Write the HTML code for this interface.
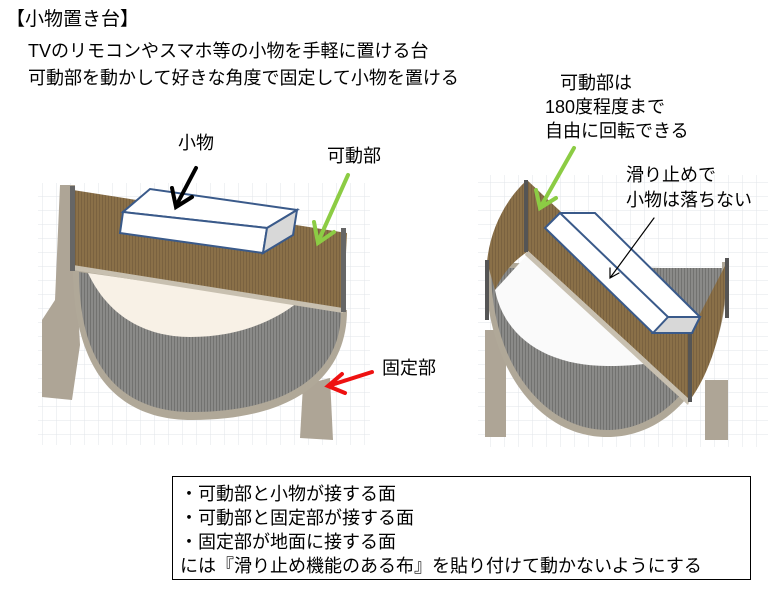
<!DOCTYPE html>
<html><head><meta charset="utf-8"><style>
html,body{margin:0;padding:0;background:#fff;}
body{width:773px;height:593px;position:relative;overflow:hidden;font-family:"Liberation Sans","Noto Sans CJK JP",sans-serif;color:#000;}
.t{position:absolute;white-space:nowrap;font-size:18px;line-height:22px;}
.box{position:absolute;left:172px;top:476px;width:579px;height:104px;border:1px solid #000;box-sizing:border-box;}
.box div{position:absolute;left:7px;font-size:18px;line-height:22px;white-space:nowrap;}
</style></head><body>
<svg width="773" height="593" style="position:absolute;left:0;top:0">
<defs>
<pattern id="g" width="14" height="14" patternUnits="userSpaceOnUse"><path d="M14 0H0V14" fill="none" stroke="#e2e4ea" stroke-width="1"/></pattern>
<pattern id="m" width="3" height="3" patternUnits="userSpaceOnUse"><rect width="3" height="3" fill="#8a8a88"/><rect width="1" height="3" fill="#727270"/></pattern>
<pattern id="b" width="3" height="3" patternUnits="userSpaceOnUse"><rect width="3" height="3" fill="#8a7048"/><rect width="1" height="3" fill="#7a6240"/></pattern>
</defs>
<rect x="38" y="183" width="332" height="262" fill="url(#g)"/>
<rect x="478" y="175" width="290" height="272" fill="url(#g)"/>
<!-- left figure -->
<polygon points="60,185 75,185 76,270 80,345 72,400 42,397 42,320 55,300" fill="#aea596"/>
<polygon points="303,385 330,378 333,440 300,438" fill="#aea596"/>
<path d="M73,268 C73,380 125,420 192,420 C290,420 347,380 347,310 Z" fill="#b0a898"/>
<path d="M79,272 C79,375 128,412 192,412 C285,412 341,375 341,312 Z" fill="url(#m)"/>
<path d="M88,273 C110,320 150,337 190,337 C240,337 275,320 297,303 Z" fill="#f8f1e6"/>
<polygon points="73,190 347,233 343,312 73,268" fill="url(#b)"/>
<polygon points="73,265 343,308 343,313 73,270" fill="#c8c0b0"/>
<rect x="70" y="186" width="5" height="85" fill="#666"/>
<rect x="341" y="228" width="5" height="84" fill="#666"/>
<polygon points="123,212 150,189 297,210 267,228" fill="#fff" stroke="#3a5a8a" stroke-width="2"/>
<polygon points="123,212 267,228 263,253 120,233" fill="#fff" stroke="#3a5a8a" stroke-width="2"/>
<polygon points="267,228 297,210 293,235 263,253" fill="#d8d8d8" stroke="#3a5a8a" stroke-width="2"/>
<!-- right figure -->
<rect x="485" y="330" width="21" height="107" fill="#aea596"/>
<rect x="705" y="380" width="23" height="60" fill="#aea596"/>
<path d="M485,262 C485,370 540,437 607,437 C675,437 728,370 728,262 L722,262 L722,270 Z" fill="#b0a898"/>
<path d="M491,268 C491,365 545,430 607,430 C670,430 722,365 722,268 Z" fill="url(#m)"/>
<path d="M495,290 C505,340 550,366 607,366 C640,366 662,362 680,357 L527,255 Z" fill="#fafafa"/>
<path d="M527,180 C505,200 490,230 487,262 L495,290 C503,272 515,260 527,252 Z" fill="url(#b)"/>
<polygon points="527,180 690,333 690,400 527,250" fill="url(#b)"/>
<path d="M690,333 L727,262 C727,320 712,370 690,400 Z" fill="url(#b)"/>
<polygon points="527,250 690,400 688,405 525,255" fill="#c8c0b0"/>
<rect x="524" y="180" width="4" height="72" fill="#555"/>
<rect x="688" y="332" width="4" height="70" fill="#555"/>
<rect x="485" y="260" width="4" height="60" fill="#555"/>
<rect x="725" y="258" width="4" height="60" fill="#555"/>
<polygon points="545,228 560,213 595,213 700,317 692,333 653,333" fill="#fff" stroke="#3a5a8a" stroke-width="2"/>
<line x1="560" y1="213" x2="668" y2="317" stroke="#3a5a8a" stroke-width="2"/>
<polygon points="668,317 700,317 692,333 653,333" fill="#d8d8d8" stroke="#3a5a8a" stroke-width="2"/>
<!-- arrows -->
<g stroke-linecap="round" fill="none">
<path d="M196,168 L176,206 M172,188 L176,207 L192,197" stroke="#000" stroke-width="4"/>
<path d="M348,175 L318,242 M314,222 L318,243 L334,232" stroke="#8ccc44" stroke-width="4"/>
<path d="M372,372 L328,386 M342,374 L328,386 L345,393" stroke="#ee1111" stroke-width="4"/>
<path d="M574,148 L540,208 M536,190 L540,208 L556,198" stroke="#8ccc44" stroke-width="4"/>
<path d="M654,218 L610,278 M610,268 L610,278 L619,273" stroke="#000" stroke-width="1.2"/>
</g>
</svg>
<div class="t" style="left:6px;top:9px;font-size:19px;">【小物置き台】</div>
<div class="t" style="left:28px;top:40px;">TVのリモコンやスマホ等の小物を手軽に置ける台</div>
<div class="t" style="left:28px;top:67px;">可動部を動かして好きな角度で固定して小物を置ける</div>
<div class="t" style="left:178px;top:132px;">小物</div>
<div class="t" style="left:327px;top:145px;">可動部</div>
<div class="t" style="left:382px;top:357px;">固定部</div>
<div class="t" style="left:560px;top:72px;">可動部は</div>
<div class="t" style="left:545px;top:96px;">180度程度まで</div>
<div class="t" style="left:545px;top:120px;">自由に回転できる</div>
<div class="t" style="left:626px;top:164px;">滑り止めで</div>
<div class="t" style="left:626px;top:189px;">小物は落ちない</div>
<div class="box">
<div style="top:6px;">・可動部と小物が接する面</div>
<div style="top:30px;">・可動部と固定部が接する面</div>
<div style="top:54px;">・固定部が地面に接する面</div>
<div style="top:78px;">には『滑り止め機能のある布』を貼り付けて動かないようにする</div>
</div>
</body></html>
